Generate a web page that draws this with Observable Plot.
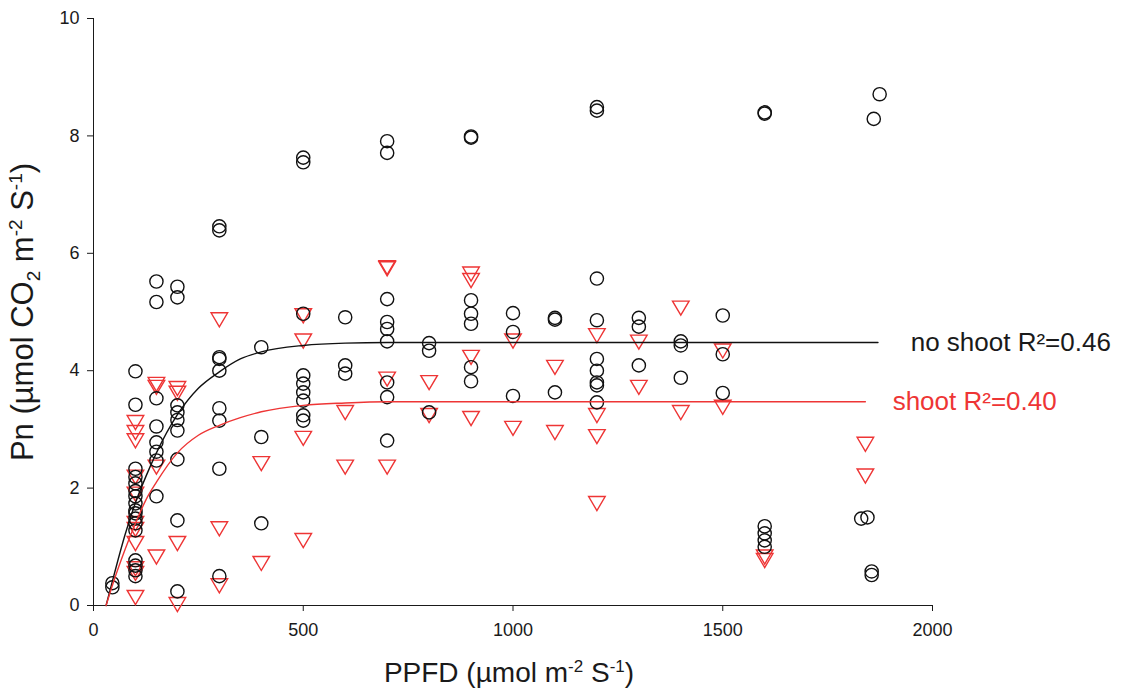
<!DOCTYPE html>
<html><head><meta charset="utf-8">
<script src="https://cdn.jsdelivr.net/npm/d3@7"></script>
<script src="https://cdn.jsdelivr.net/npm/@observablehq/plot@0.6"></script>
<style>
body{margin:0;background:#fff}
#chart svg{font-family:"Liberation Sans",Arial,sans-serif;}
</style>
</head><body><div id="chart"></div>
<script>
// No shoot (circles): PPFD level and Pn readings
const noShootPPFD = [45, 100, 150, 200, 300, 400, 500, 600, 700, 800, 900, 1000, 1100, 1200, 1300, 1400, 1500, 1600, 1830, 1845, 1855, 1860, 1874];
const noShootPn = [
  [0.38, 0.31],
  [3.99, 3.42, 2.33, 2.19, 2.08, 1.95, 1.86, 1.74, 1.62, 1.57, 1.48, 1.40, 1.28, 0.77, 0.68, 0.60, 0.50],
  [5.52, 5.17, 3.53, 3.05, 2.78, 2.62, 2.47, 1.86],
  [5.43, 5.25, 3.41, 3.29, 3.16, 2.98, 2.49, 1.45, 0.24],
  [6.46, 6.39, 4.23, 4.20, 4.00, 3.36, 3.15, 2.33, 0.50],
  [4.40, 2.87, 1.40],
  [7.63, 7.55, 4.97, 3.92, 3.78, 3.63, 3.49, 3.24, 3.15],
  [4.91, 4.09, 3.95],
  [7.91, 7.71, 5.22, 4.83, 4.71, 4.50, 3.80, 3.55, 2.81],
  [4.47, 4.34, 3.29],
  [7.99, 7.97, 5.20, 4.97, 4.80, 4.06, 3.82],
  [4.98, 4.66, 3.57],
  [4.90, 4.87, 3.63],
  [8.49, 8.43, 5.57, 4.86, 4.20, 4.00, 3.80, 3.75, 3.46],
  [4.90, 4.75, 4.09],
  [4.50, 4.43, 3.88],
  [4.94, 4.28, 3.62],
  [8.40, 8.38, 1.35, 1.23, 1.11, 1.00],
  [1.48],
  [1.50],
  [0.58, 0.52],
  [8.29],
  [8.71]
];
// Shoot (triangles)
const shootPPFD = [100, 150, 200, 300, 400, 500, 600, 700, 800, 900, 1000, 1100, 1200, 1300, 1400, 1500, 1600, 1840];
const shootPn = [
  [3.12, 2.95, 2.81, 2.19, 1.90, 1.40, 1.30, 1.06, 0.63, 0.55, 0.14],
  [3.77, 3.72, 2.36, 0.83],
  [3.70, 3.62, 1.06, 0.02],
  [4.87, 1.31, 0.34],
  [2.42, 0.72],
  [4.94, 4.51, 2.85, 1.11],
  [3.29, 2.36],
  [5.76, 5.74, 3.86, 2.36],
  [3.80, 3.24],
  [5.65, 5.54, 4.23, 3.19],
  [4.51, 3.02],
  [4.06, 2.95],
  [4.60, 3.24, 2.88, 1.74],
  [4.49, 3.72],
  [5.07, 3.29],
  [4.34, 3.38],
  [0.83, 0.77],
  [2.75, 2.21]
];
// Fitted curves
const fitPPFDBlack = [30, 50, 75, 100, 125, 150, 200, 250, 300, 350, 400, 500, 600, 700, 1870];
const fitPnBlack   = [0, 0.55, 1.2, 1.75, 2.2, 2.6, 3.25, 3.7, 3.98, 4.2, 4.32, 4.43, 4.47, 4.48, 4.48];
const fitPPFDRed   = [30, 50, 75, 100, 125, 150, 200, 250, 300, 350, 400, 500, 600, 700, 1840];
const fitPnRed     = [0, 0.45, 0.95, 1.4, 1.8, 2.1, 2.6, 2.9, 3.07, 3.2, 3.3, 3.41, 3.45, 3.47, 3.47];

const xTicks = [0, 500, 1000, 1500, 2000];
const yTicks = [0, 2, 4, 6, 8, 10];

const RED = "#ee3535";
const INK = "#1a1a1a";

const circles = noShootPPFD.flatMap((x, i) => noShootPn[i].map(y => ({x, y})));
const tris = shootPPFD.flatMap((x, i) => shootPn[i].map(y => ({x, y})));
const blackFit = fitPPFDBlack.map((x, i) => ({x, y: fitPnBlack[i]}));
const redFit = fitPPFDRed.map((x, i) => ({x, y: fitPnRed[i]}));

const triDown = {
  draw(ctx, size) {
    const r = Math.sqrt(size / Math.PI);
    ctx.moveTo(-1.12 * r, -0.92 * r);
    ctx.lineTo(1.12 * r, -0.92 * r);
    ctx.lineTo(0, 0.98 * r);
    ctx.closePath();
  }
};

const chart = Plot.plot({
  width: 1125,
  height: 690,
  marginLeft: 93,
  marginRight: 193,
  marginTop: 18,
  marginBottom: 85,
  style: {fontFamily: "Liberation Sans, Arial, sans-serif", fontSize: "18px", color: INK, background: "#fff"},
  x: {domain: [0, 2000], ticks: xTicks},
  y: {domain: [0, 10], ticks: yTicks},
  marks: [
    Plot.axisX({ticks: xTicks, tickFormat: d => String(d), tickSize: 6, tickPadding: 12, fontSize: 18, label: null, stroke: INK}),
    Plot.axisY({ticks: yTicks, tickFormat: d => String(d), tickSize: 6, tickPadding: 8, fontSize: 18, label: null, stroke: INK}),
    Plot.ruleX([0], {y1: 0, y2: 10, stroke: INK}),
    Plot.ruleY([0], {x1: 0, x2: 2000, stroke: INK}),
    Plot.dot(tris, {x: "x", y: "y", symbol: triDown, r: 7.4, stroke: RED, strokeWidth: 1.4, fill: "none"}),
    Plot.dot(circles, {x: "x", y: "y", r: 6.6, stroke: "#111", strokeWidth: 1.4, fill: "none"}),
    Plot.line(blackFit, {x: "x", y: "y", curve: "monotone-x", stroke: "#111", strokeWidth: 1.4}),
    Plot.line(redFit, {x: "x", y: "y", curve: "monotone-x", stroke: RED, strokeWidth: 1.4}),
    Plot.text(["no shoot R²=0.46"], {x: 1948, y: 4.48, text: d => d, textAnchor: "start", fontSize: 26, fill: INK, clip: false}),
    Plot.text(["shoot R²=0.40"], {x: 1905, y: 3.47, text: d => d, textAnchor: "start", fontSize: 26, fill: RED, clip: false})
  ]
});

document.getElementById("chart").appendChild(chart);

// axis titles with sub/superscripts as real text
const svg = d3.select(chart.tagName.toLowerCase() === "svg" ? chart : chart.querySelector("svg"));
const ty = svg.append("text")
  .attr("transform", "translate(33,312) rotate(-90)")
  .attr("text-anchor", "middle")
  .attr("font-size", 31)
  .attr("fill", INK);
ty.append("tspan").text("Pn (µmol CO");
ty.append("tspan").text("2").attr("font-size", 19).attr("dy", 7);
ty.append("tspan").text(" m").attr("dy", -7);
ty.append("tspan").text("-2").attr("font-size", 19).attr("dy", -11);
ty.append("tspan").text(" S").attr("dy", 11);
ty.append("tspan").text("-1").attr("font-size", 19).attr("dy", -11);
ty.append("tspan").text(")").attr("dy", 11);

const tx = svg.append("text")
  .attr("transform", "translate(509,682)")
  .attr("text-anchor", "middle")
  .attr("font-size", 28)
  .attr("fill", INK);
tx.append("tspan").text("PPFD (µmol m");
tx.append("tspan").text("-2").attr("font-size", 17).attr("dy", -10);
tx.append("tspan").text(" S").attr("dy", 10);
tx.append("tspan").text("-1").attr("font-size", 17).attr("dy", -10);
tx.append("tspan").text(")").attr("dy", 10);
</script>
</body></html>
